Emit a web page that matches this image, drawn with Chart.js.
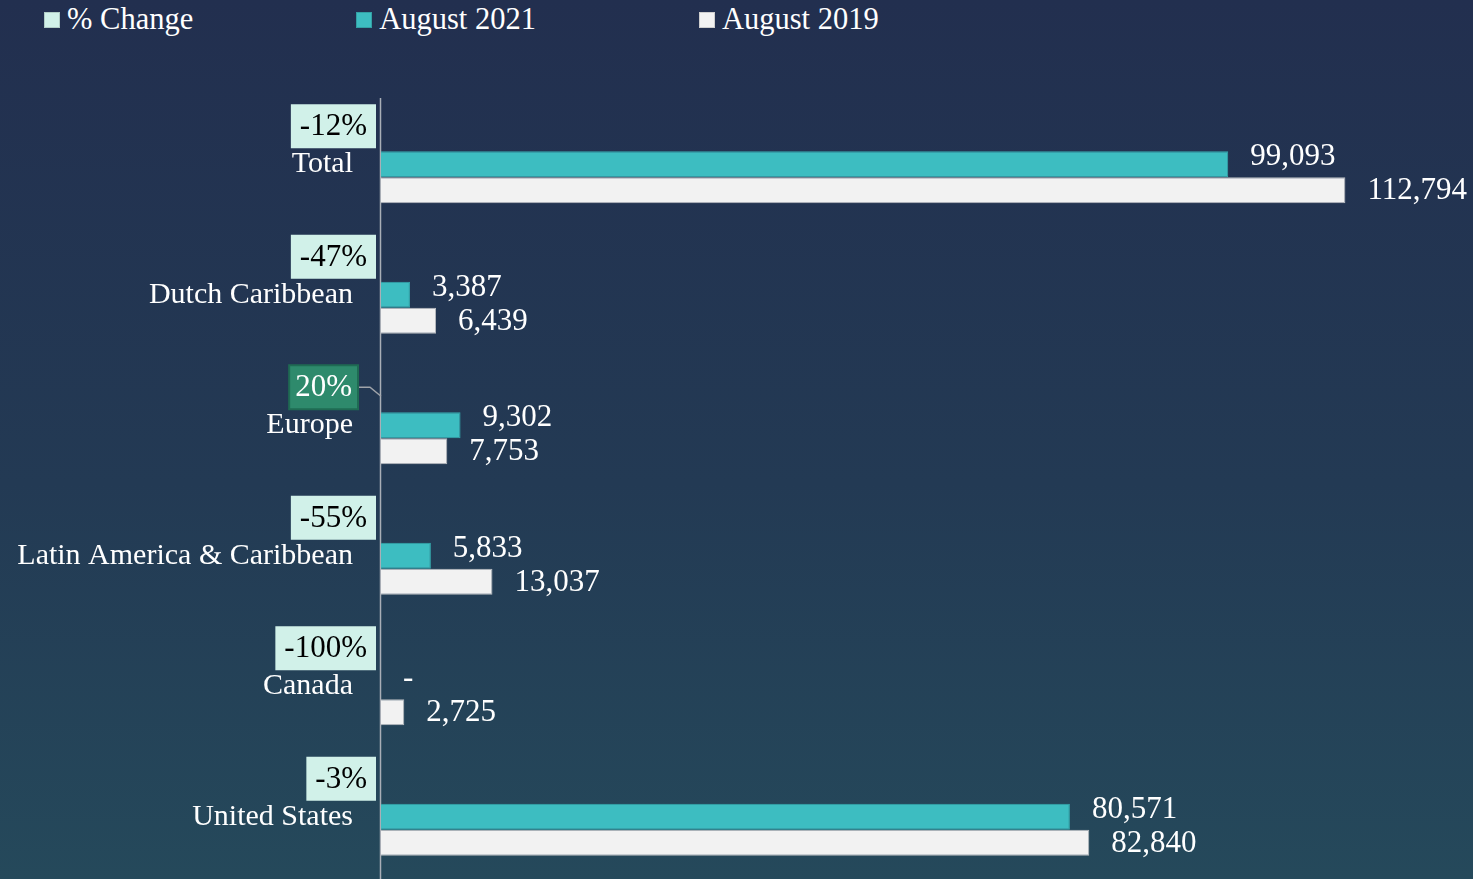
<!DOCTYPE html>
<html>
<head>
<meta charset="utf-8">
<script src="https://cdn.jsdelivr.net/npm/chart.js@4.4.0/dist/chart.umd.min.js"></script>
<style>
  html, body { margin: 0; padding: 0; width: 1473px; height: 879px; overflow: hidden; }
  body {
    position: relative;
    background: linear-gradient(to bottom, #222f4f 0%, #233a54 55%, #25495b 100%);
    font-family: 'Liberation Serif', serif;
  }
  #legend { position: absolute; left: 44px; top: 2px; display: flex; gap: 163px; color: #fff; font-size: 30.5px; }
  .item { display: flex; align-items: center; }
  .swatch { width: 16px; height: 16px; margin-right: 7px; box-sizing: border-box; border: 1px solid rgba(0,0,0,0.15); }
  #chart { position: absolute; left: 0; top: 0; }
</style>
</head>
<body>
<div id="legend"></div>
<canvas id="chart" width="1473" height="941"></canvas>
<script>
const categories = ['Total', 'Dutch Caribbean', 'Europe', 'Latin America & Caribbean', 'Canada', 'United States'];
const aug2021 = [99093, 3387, 9302, 5833, 0, 80571];
const aug2019 = [112794, 6439, 7753, 13037, 2725, 82840];
const pctChange = [-12, -47, 20, -55, -100, -3];

const TEAL = '#3dbdc1';
const WHITE = '#f2f2f2';
const MINT = '#d1f1e9';
const FONT = '31px "Liberation Serif"';

// legend (html, real text)
const legendItems = [['% Change', MINT], ['August 2021', TEAL], ['August 2019', WHITE]];
const legend = document.getElementById('legend');
legendItems.forEach(([name, color]) => {
  const item = document.createElement('div');
  item.className = 'item';
  item.innerHTML = '<span class="swatch" style="background:' + color + '"></span><span>' + name + '</span>';
  legend.appendChild(item);
});

const labelPlugin = {
  id: 'barLabels',
  beforeDatasetsDraw(chart) {
    const { ctx, chartArea } = chart;
    ctx.save();
    ctx.strokeStyle = '#a9aeb6';
    ctx.lineWidth = 1.5;
    ctx.beginPath();
    ctx.moveTo(chartArea.left - 0.5, 98);
    ctx.lineTo(chartArea.left - 0.5, chart.height);
    ctx.stroke();
    ctx.restore();
  },
  afterDatasetsDraw(chart) {
    const { ctx } = chart;
    ctx.save();
    ctx.font = FONT;
    ctx.textBaseline = 'middle';
    ctx.textAlign = 'left';
    ctx.fillStyle = '#ffffff';
    chart.data.datasets.forEach((ds, i) => {
      const meta = chart.getDatasetMeta(i);
      meta.data.forEach((bar, j) => {
        const v = ds.data[j];
        const txt = v === 0 ? '-' : v.toLocaleString('en-US');
        const dy = i === 0 ? -7 : 1;
        ctx.fillText(txt, bar.x + 22, bar.y + dy);
      });
    });

    // % change boxes
    const yScale = chart.scales.y;
    const axisX = chart.chartArea.left;
    pctChange.forEach((p, j) => {
      const cy = yScale.getPixelForValue(j) - 51;
      const txt = p + '%';
      const w = ctx.measureText(txt).width;
      const h = 44;
      if (p >= 0) {
        const right = axisX - 23;
        const left = right - w - 12;
        ctx.fillStyle = '#2e8a6c';
        ctx.fillRect(left, cy - h / 2, right - left, h);
        ctx.strokeStyle = '#1f6b53';
        ctx.lineWidth = 2;
        ctx.strokeRect(left, cy - h / 2, right - left, h);
        ctx.strokeStyle = '#a0a4aa';
        ctx.lineWidth = 1.5;
        ctx.beginPath();
        ctx.moveTo(right + 1, cy);
        ctx.lineTo(right + 12, cy);
        ctx.lineTo(axisX, cy + 9);
        ctx.stroke();
        ctx.fillStyle = '#ffffff';
        ctx.textAlign = 'center';
        ctx.fillText(txt, (left + right) / 2, cy + 1);
      } else {
        const right = axisX - 5;
        const left = right - w - 18;
        ctx.fillStyle = MINT;
        ctx.fillRect(left, cy - h / 2, right - left, h);
        ctx.fillStyle = '#000000';
        ctx.textAlign = 'center';
        ctx.fillText(txt, (left + right) / 2, cy + 1);
      }
    });
    ctx.restore();
  }
};

new Chart(document.getElementById('chart').getContext('2d'), {
  type: 'bar',
  data: {
    labels: categories,
    datasets: [
      { label: 'August 2021', data: aug2021, backgroundColor: TEAL, borderColor: '#35abaf', borderWidth: 1, categoryPercentage: 0.4, barPercentage: 1.0 },
      { label: 'August 2019', data: aug2019, backgroundColor: WHITE, borderColor: '#b9bcc0', borderWidth: 1, categoryPercentage: 0.4, barPercentage: 1.0 }
    ]
  },
  options: {
    indexAxis: 'y',
    responsive: false,
    animation: false,
    layout: { padding: { top: 112, right: 66, bottom: 8, left: 0 } },
    plugins: { legend: { display: false }, tooltip: { enabled: false } },
    scales: {
      x: { display: false, min: 0, max: 120000 },
      y: {
        grid: { display: false, drawTicks: false },
        border: { display: false },
        ticks: { color: '#ffffff', font: { family: 'Liberation Serif', size: 30 }, padding: 28, labelOffset: -13 },
        afterFit(scale) { scale.width = 381; }
      }
    }
  },
  plugins: [labelPlugin]
});
</script>
</body>
</html>
